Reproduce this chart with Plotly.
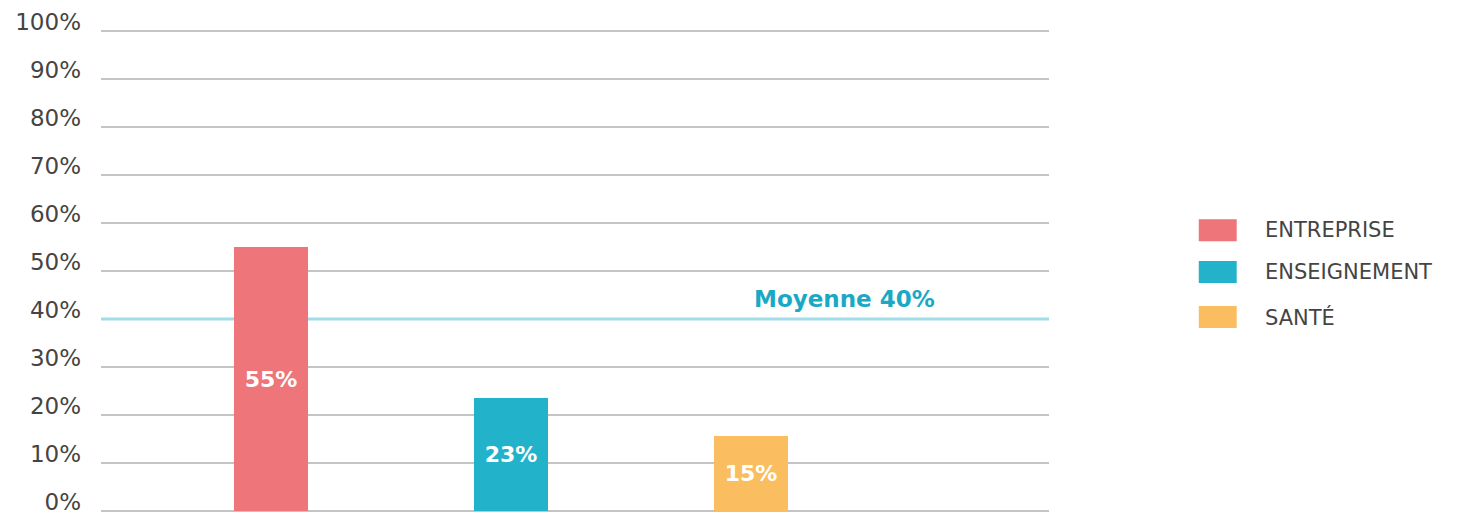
import plotly.graph_objects as go

categories = ["ENTREPRISE", "ENSEIGNEMENT", "SANTÉ"]
values = [55, 23.5, 15.6]
value_labels = ["55%", "23%", "15%"]
colors = ["#ee7579", "#22b3cb", "#fabe60"]
average = 40
average_label = "Moyenne 40%"
tick_vals = list(range(0, 101, 10))
tick_text = [f"{v}%" for v in tick_vals]

FONT = "DejaVu Sans"

fig = go.Figure()
fig.add_trace(go.Bar(
    x=list(range(len(categories))),
    y=values,
    marker=dict(color=colors, line=dict(width=0)),
    width=0.308,
    text=value_labels,
    textposition="inside",
    insidetextanchor="middle",
    textangle=0,
    textfont=dict(family=FONT, size=22, color="white", weight="bold"),
    showlegend=False,
    hoverinfo="skip",
))

# grid lines (drawn as shapes so the average line can sit above them)
for v in tick_vals:
    fig.add_shape(type="line", xref="paper", yref="y", x0=0, x1=1, y0=v, y1=v,
                  line=dict(color="#c4c4c4", width=2), layer="below")

# average line
fig.add_shape(type="line", xref="paper", yref="y", x0=0, x1=1, y0=average, y1=average,
              line=dict(color="#9fdde8", width=3), layer="below")
fig.add_annotation(x=2.39, y=average, xref="x", yref="y", text=f"<b>{average_label}</b>",
                   showarrow=False, yanchor="bottom", yshift=5,
                   font=dict(family=FONT, size=23, color="#1aa9c4"))

# custom legend
leg_y = [0.585, 0.498, 0.404]
PAPER_H = 487.0
def py(frac):
    return (frac * 480 + 2) / PAPER_H

for cat, col, ly in zip(categories, colors, leg_y):
    fig.add_shape(type="rect", xref="paper", yref="paper",
                  x0=1.158, x1=1.198, y0=py(ly - 0.0229), y1=py(ly + 0.0229),
                  fillcolor=col, line=dict(width=0))
    fig.add_annotation(xref="paper", yref="paper", x=1.2257, y=py(ly), text=cat,
                       showarrow=False, xanchor="left", yanchor="middle",
                       font=dict(family=FONT, size=21, color="#444444"))

fig.update_layout(
    width=1461, height=513,
    margin=dict(l=101, r=412, t=26, b=0, autoexpand=False),
    paper_bgcolor="white", plot_bgcolor="white",
    bargap=0,
    xaxis=dict(visible=False, range=[-0.708, 3.242], fixedrange=True),
    yaxis=dict(range=[-0.417, 101.04], tickvals=tick_vals, ticktext=tick_text,
               showgrid=False, zeroline=False, showline=False, ticks="",
               automargin=False, ticklabeloverflow="allow",
               ticklabelshift=-9, ticklabelstandoff=19,
               fixedrange=True,
               tickfont=dict(family=FONT, size=23, color="#444444")),
    font=dict(family=FONT),
)

fig.write_html("out.html", config={"displayModeBar": False},
               post_script="document.body.style.margin='0';document.body.style.overflow='hidden';")
